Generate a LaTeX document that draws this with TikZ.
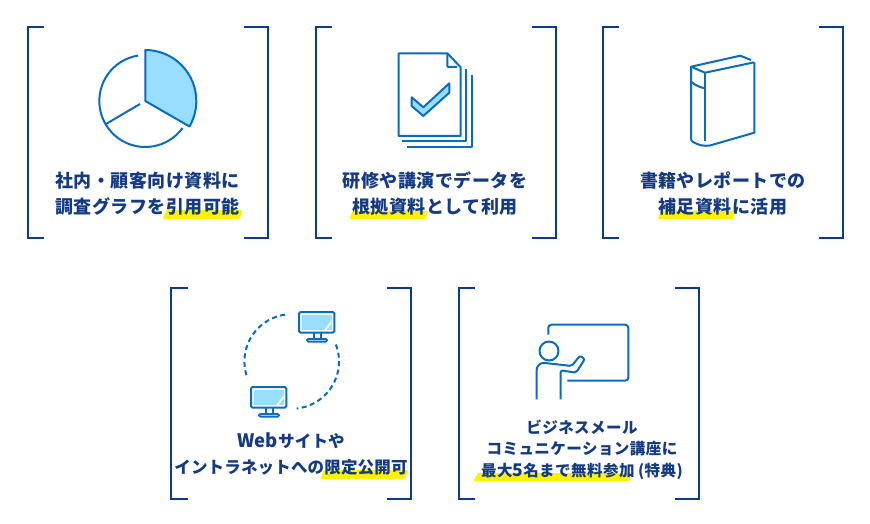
\documentclass[tikz,border=0pt]{standalone}
\usepackage{fontspec}
\newfontfamily\jpA{Noto Sans CJK JP}[LetterSpace=2.5]
\newfontfamily\jpB{Noto Sans CJK JP}[LetterSpace=1]
\newfontfamily\jpC{Noto Sans CJK JP}[LetterSpace=3]
\definecolor{navy}{HTML}{0A3A8C}
\definecolor{txt}{HTML}{133A82}
\definecolor{ico}{HTML}{0A6CBF}
\definecolor{lite}{HTML}{99DDFF}
\definecolor{hl}{HTML}{FFF200}
\tikzset{
  bracketline/.style={draw=navy,line width=1.9pt},
  iconline/.style={draw=ico,line width=2pt,line join=round},
  thinline/.style={draw=ico,line width=1.8pt,line join=round},
  marker/.style={fill=hl,draw=none,rounded corners=1pt},
  labelA/.style={text=txt,align=center,font=\jpA\bfseries\fontsize{18}{26}\selectfont,inner sep=0pt},
  labelB/.style={text=txt,align=center,font=\jpB\bfseries\fontsize{16.5}{26}\selectfont,inner sep=0pt},
  labelC/.style={text=txt,align=center,font=\jpC\bfseries\fontsize{15.5}{21.5}\selectfont,inner sep=0pt},
  dashring/.style={draw=ico,line width=2pt,dash pattern=on 5pt off 3.5pt},
  screen/.style={fill=white,draw=ico,line width=2pt,rounded corners=1.5pt}
}
\newcommand{\brackets}[4]{%
  \draw[bracketline] (#1+16.5,#3) -- (#1,#3) -- (#1,#4) -- (#1+16.5,#4);
  \draw[bracketline] (#2-24.5,#3) -- (#2,#3) -- (#2,#4) -- (#2-24.5,#4);
}
\newcommand{\monitor}[2]{%
  \begin{scope}[shift={(#1,#2)}]
    \draw[screen] (0,0) rectangle (35.3,20.7);
    \fill[lite] (2.6,2.6) rectangle (32.7,18.1);
    \fill[white] (32.7,8.5) -- (32.7,11) -- (27.5,18.1) -- (25,18.1) -- cycle;
    \draw[thinline] (15.3,20.7) -- (15.3,27) (21.7,20.7) -- (21.7,27);
    \draw[thinline,rounded corners=1.2pt] (8,27) rectangle (28,29.6);
  \end{scope}}
\begin{document}
\begin{tikzpicture}[x=1pt,y=1pt,yscale=-1]
\useasboundingbox (0,0) rectangle (870,524);
\fill[white] (0,0) rectangle (870,524);
% markers
\fill[marker] (162.7,219) -- (166.5,210) -- (242.7,210) -- (239.5,219) -- cycle;
\fill[marker] (349.3,219) -- (353,210.5) -- (428.3,210.5) -- (425.5,219) -- cycle;
\fill[marker] (657.7,219) -- (661.5,210.5) -- (735.7,210.5) -- (733,219) -- cycle;
\fill[marker] (320.3,479) -- (324,470) -- (408.3,470) -- (405,479) -- cycle;
\fill[marker] (473.3,481.3) -- (478,473) -- (632,473) -- (629,481.3) -- cycle;
% brackets
\brackets{27.7}{268}{26.7}{238}
\brackets{315.7}{556}{26.7}{238}
\brackets{602.7}{843}{26.7}{238}
\brackets{171}{411}{288}{499}
\brackets{458.7}{699}{288}{499}
% pie
\fill[lite] (145.3,101) -- ++(-90:51) arc (-90:30:51.5) -- cycle;
\draw[iconline] (145.3,101) -- ++(-90:51) arc (-90:30:51) -- cycle;
\draw[iconline] (145.3,101) ++(-99:46) arc (-99:-324:46);
\draw[iconline] (140,104) -- (106,124);
% documents
\draw[iconline] (447.3,53.3) -- (398.7,53.3) -- (398.7,136) -- (460.7,136) -- (460.7,67.3) -- cycle;
\draw[iconline,rounded corners=1pt] (447.3,53.3) -- (447.3,67) -- (457,67);
\draw[iconline] (466,69.3) -- (466,141) -- (402,141);
\draw[iconline] (471.7,75) -- (471.7,146.7) -- (407.3,146.7);
\draw[iconline,fill=lite] (411.7,97.3) -- (423.3,107.3) -- (449.3,83.3) -- (449.3,92.7) -- (423.3,116) -- (411.7,106) -- cycle;
% book
\draw[iconline] (754.3,62.3) -- (705,72.7) -- (691,66.7) -- (740.3,55.7) -- (751,60);
\draw[iconline] (754.3,62.3) -- (754.3,132.7) -- (710,145.5) .. controls (704,146.5) and (698,145) .. (693,142) .. controls (691.5,141) and (691,140) .. (691,138) -- (691,66.7);
\draw[iconline] (705,72.7) -- (705,140.7);
\draw[iconline] (691,81.7) .. controls (695,85) and (700,87.5) .. (705,88.3);
% monitors
\monitor{299}{312}
\monitor{251}{387}
\draw[dashring] (291.7,361.5) ++(262:47.3) arc (262:159:47.3);
\draw[dashring] (291.7,361.5) ++(-21:47.3) arc (-21:84:47.3);
% teacher
\draw[iconline,rounded corners=3pt] (548.3,334.7) -- (548.3,324.7) -- (628.3,324.7) -- (628.3,380.7) -- (567.3,380.7);
\draw[iconline] (549,351) circle (9.5);
\draw[iconline,rounded corners=2pt] (536.7,399.3) -- (536.7,372) .. controls (536.7,366) and (540,363) .. (545,363) -- (571.7,366) -- (578,358) .. controls (580,356) and (585,358) .. (583,362) -- (576,372.7) -- (560.7,370.3) -- (560.7,399.3);
% labels
\node[labelA] (t1) at (147.5,193.3) {社内・顧客向け資料に\\調査グラフを引用可能};
\node[labelA] (t2) at (435,193.3) {研修や講演でデータを\\根拠資料として利用};
\node[labelA] (t3) at (722.8,193.3) {書籍やレポートでの\\補足資料に活用};
\node[labelB] (t4) at (291,454) {{\fontsize{18.5}{26}\selectfont Web}サイトや\\イントラネットへの限定公開可};
\node[labelC] (t5) at (582,449.5) {ビジネスメール\\コミュニケーション講座に\\最大{\fontsize{17.5}{21.5}\selectfont 5}名まで無料参加\hspace{3.5pt}(特典)};
\end{tikzpicture}
\end{document}
